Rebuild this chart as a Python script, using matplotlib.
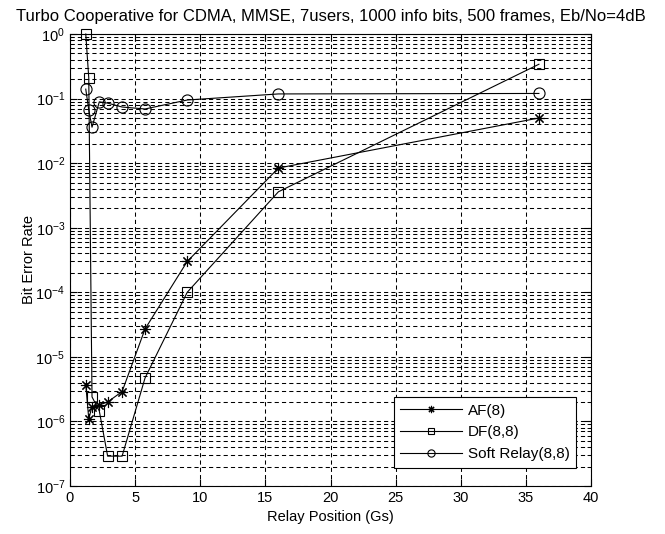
import matplotlib
matplotlib.use("Agg")
import matplotlib.pyplot as plt
from matplotlib.ticker import LogLocator, NullFormatter, LogFormatterMathtext
import numpy as np

plt.rcParams['font.family'] = ['Liberation Sans', 'DejaVu Sans']
plt.rcParams['mathtext.fontset'] = 'custom'
plt.rcParams['mathtext.rm'] = 'Liberation Sans'

# relay positions (Gs) and bit error rates
af_x = [1.21, 1.44, 1.69, 2.25, 2.89, 4, 5.76, 9, 16, 36]
af_ber = [3.7e-6, 1.1e-6, 1.7e-6, 1.8e-6, 2.0e-6, 2.9e-6, 2.7e-5, 3.0e-4, 8.4e-3, 5.0e-2]

df_x = [1.21, 1.44, 1.69, 2.25, 2.89, 4, 5.76, 9, 16, 36]
df_ber = [1.0, 2.1e-1, 2.4e-6, 1.45e-6, 2.9e-7, 2.9e-7, 4.7e-6, 1.0e-4, 3.6e-3, 3.4e-1]

sr_x = [1.21, 1.44, 1.69, 2.25, 2.89, 4, 5.76, 9, 16, 36]
sr_ber = [1.4e-1, 6.7e-2, 3.6e-2, 8.9e-2, 8.5e-2, 7.4e-2, 6.9e-2, 9.5e-2, 1.18e-1, 1.2e-1]

labels = ["AF(8)", "DF(8,8)", "Soft Relay(8,8)"]

fig = plt.figure(figsize=(6.65, 5.34), dpi=100)
ax = fig.add_axes([70 / 665, 1 - 486 / 534, 521 / 665, 452 / 534])

asterisk = (8, 2, 0)
ax.semilogy(af_x, af_ber, color='black', lw=0.8, marker=asterisk, ms=8, mew=0.8,
            label=labels[0], clip_on=False, zorder=5)
ax.semilogy(df_x, df_ber, color='black', lw=0.8, marker='s', ms=7.5, mew=0.8,
            mfc='none', label=labels[1], clip_on=False, zorder=5)
ax.semilogy(sr_x, sr_ber, color='black', lw=0.8, marker='o', ms=8, mew=0.8,
            mfc='none', label=labels[2], clip_on=False, zorder=5)

ax.set_xlim(0, 40)
ax.set_ylim(1e-7, 1)
ax.set_xticks(np.arange(0, 41, 5))
ax.yaxis.set_major_locator(LogLocator(base=10, numticks=10))
ax.yaxis.set_minor_locator(LogLocator(base=10, subs=np.arange(2, 10), numticks=10))
ax.yaxis.set_minor_formatter(NullFormatter())
ax.yaxis.set_major_formatter(LogFormatterMathtext())

grid_style = dict(color='black', linestyle=(0, (4, 3)), linewidth=0.75)
ax.grid(True, which='major', axis='both', **grid_style)
ax.grid(True, which='minor', axis='y', **grid_style)

ax.tick_params(which='both', direction='in', top=True, right=True, labelsize=10.5)
ax.tick_params(which='major', length=5)
ax.tick_params(which='minor', length=3)
for s in ax.spines.values():
    s.set_linewidth(0.8)

ax.set_title("Turbo Cooperative for CDMA, MMSE, 7users, 1000 info bits, 500 frames, Eb/No=4dB",
             fontsize=12, pad=9)
ax.set_xlabel("Relay Position (Gs)", fontsize=10.5)
ax.set_ylabel("Bit Error Rate", fontsize=10.5)
ax.yaxis.set_label_coords(-0.066, 0.5)

leg = ax.legend(loc='lower right', bbox_to_anchor=(0.972, 0.04), fontsize=11,
                frameon=True, fancybox=False, edgecolor='black', framealpha=1,
                handlelength=4.0, handletextpad=0.4, markerscale=0.65,
                borderpad=0.45, labelspacing=0.5, borderaxespad=0)
leg.get_frame().set_linewidth(0.8)

fig.savefig("out.png", dpi=100)
